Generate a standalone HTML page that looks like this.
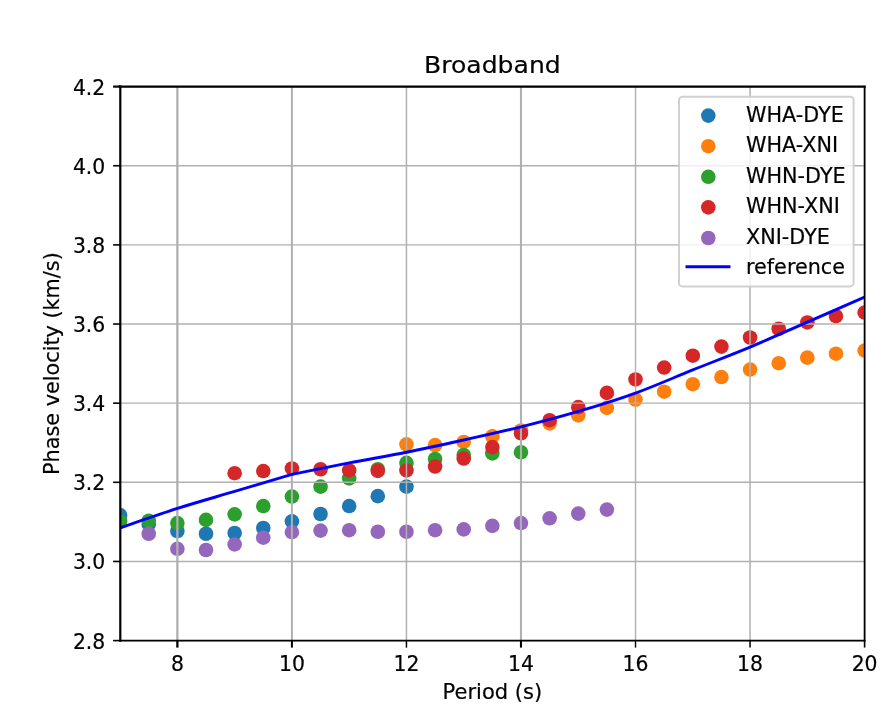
<!DOCTYPE html>
<html><head><meta charset="utf-8"><title>Broadband</title>
<style>html,body{margin:0;padding:0;background:#fff}svg{display:block}text{font-family:"DejaVu Sans","Liberation Sans",sans-serif;fill:#000;stroke:#000;stroke-width:0.2px}</style></head><body>
<svg width="887" height="721" viewBox="0 0 887 721">
<rect width="887" height="721" fill="#fff"/>
<defs><clipPath id="c"><rect x="120.1" y="86.6" width="744.5" height="554.0"/></clipPath></defs>
<g clip-path="url(#c)">
<g fill="#1f77b4"><circle cx="120.10" cy="515.16" r="7.3"/><circle cx="148.73" cy="524.26" r="7.3"/><circle cx="177.37" cy="530.99" r="7.3"/><circle cx="206.00" cy="533.76" r="7.3"/><circle cx="234.64" cy="532.97" r="7.3"/><circle cx="263.27" cy="528.02" r="7.3"/><circle cx="291.91" cy="521.29" r="7.3"/><circle cx="320.54" cy="513.97" r="7.3"/><circle cx="349.18" cy="506.06" r="7.3"/><circle cx="377.81" cy="496.16" r="7.3"/><circle cx="406.45" cy="486.67" r="7.3"/></g>
<g fill="#ff7f0e"><circle cx="406.45" cy="444.33" r="7.3"/><circle cx="435.08" cy="445.12" r="7.3"/><circle cx="463.72" cy="441.95" r="7.3"/><circle cx="492.35" cy="436.41" r="7.3"/><circle cx="520.98" cy="430.48" r="7.3"/><circle cx="549.62" cy="423.35" r="7.3"/><circle cx="578.25" cy="415.44" r="7.3"/><circle cx="606.89" cy="407.92" r="7.3"/><circle cx="635.52" cy="399.61" r="7.3"/><circle cx="664.16" cy="391.70" r="7.3"/><circle cx="692.79" cy="384.18" r="7.3"/><circle cx="721.43" cy="377.05" r="7.3"/><circle cx="750.06" cy="369.54" r="7.3"/><circle cx="778.70" cy="363.20" r="7.3"/><circle cx="807.33" cy="357.66" r="7.3"/><circle cx="835.97" cy="353.71" r="7.3"/><circle cx="864.60" cy="350.54" r="7.3"/></g>
<g fill="#2ca02c"><circle cx="120.10" cy="521.49" r="7.3"/><circle cx="148.73" cy="520.70" r="7.3"/><circle cx="177.37" cy="523.07" r="7.3"/><circle cx="206.00" cy="519.91" r="7.3"/><circle cx="234.64" cy="514.37" r="7.3"/><circle cx="263.27" cy="506.06" r="7.3"/><circle cx="291.91" cy="496.56" r="7.3"/><circle cx="320.54" cy="486.67" r="7.3"/><circle cx="349.18" cy="478.36" r="7.3"/><circle cx="377.81" cy="469.26" r="7.3"/><circle cx="406.45" cy="462.92" r="7.3"/><circle cx="435.08" cy="458.97" r="7.3"/><circle cx="463.72" cy="455.01" r="7.3"/><circle cx="492.35" cy="453.43" r="7.3"/><circle cx="520.98" cy="452.24" r="7.3"/></g>
<g fill="#d62728"><circle cx="234.64" cy="473.21" r="7.3"/><circle cx="263.27" cy="471.04" r="7.3"/><circle cx="291.91" cy="468.46" r="7.3"/><circle cx="320.54" cy="469.26" r="7.3"/><circle cx="349.18" cy="470.44" r="7.3"/><circle cx="377.81" cy="470.84" r="7.3"/><circle cx="406.45" cy="470.44" r="7.3"/><circle cx="435.08" cy="466.49" r="7.3"/><circle cx="463.72" cy="458.57" r="7.3"/><circle cx="492.35" cy="447.10" r="7.3"/><circle cx="520.98" cy="433.25" r="7.3"/><circle cx="549.62" cy="420.19" r="7.3"/><circle cx="578.25" cy="407.13" r="7.3"/><circle cx="606.89" cy="392.88" r="7.3"/><circle cx="635.52" cy="379.43" r="7.3"/><circle cx="664.16" cy="367.56" r="7.3"/><circle cx="692.79" cy="355.69" r="7.3"/><circle cx="721.43" cy="346.58" r="7.3"/><circle cx="750.06" cy="337.48" r="7.3"/><circle cx="778.70" cy="328.78" r="7.3"/><circle cx="807.33" cy="322.45" r="7.3"/><circle cx="835.97" cy="316.11" r="7.3"/><circle cx="864.60" cy="312.55" r="7.3"/></g>
<g fill="#9467bd"><circle cx="148.73" cy="533.76" r="7.3"/><circle cx="177.37" cy="548.79" r="7.3"/><circle cx="206.00" cy="549.98" r="7.3"/><circle cx="234.64" cy="544.44" r="7.3"/><circle cx="263.27" cy="537.71" r="7.3"/><circle cx="291.91" cy="532.17" r="7.3"/><circle cx="320.54" cy="530.59" r="7.3"/><circle cx="349.18" cy="530.20" r="7.3"/><circle cx="377.81" cy="531.78" r="7.3"/><circle cx="406.45" cy="531.78" r="7.3"/><circle cx="435.08" cy="530.20" r="7.3"/><circle cx="463.72" cy="529.40" r="7.3"/><circle cx="492.35" cy="525.84" r="7.3"/><circle cx="520.98" cy="523.07" r="7.3"/><circle cx="549.62" cy="518.32" r="7.3"/><circle cx="578.25" cy="513.58" r="7.3"/><circle cx="606.89" cy="509.62" r="7.3"/></g>
</g>
<g stroke="#b0b0b0"><line x1="177.37" y1="86.6" x2="177.37" y2="640.6" stroke-width="2.3"/><line x1="291.91" y1="86.6" x2="291.91" y2="640.6" stroke-width="2.0"/><line x1="406.45" y1="86.6" x2="406.45" y2="640.6" stroke-width="1.5"/><line x1="520.98" y1="86.6" x2="520.98" y2="640.6" stroke-width="2.1"/><line x1="635.52" y1="86.6" x2="635.52" y2="640.6" stroke-width="1.4"/><line x1="750.06" y1="86.6" x2="750.06" y2="640.6" stroke-width="1.5"/><line x1="864.60" y1="86.6" x2="864.60" y2="640.6" stroke-width="1.6"/><line x1="120.1" y1="640.60" x2="864.6" y2="640.60" stroke-width="1.4"/><line x1="120.1" y1="561.46" x2="864.6" y2="561.46" stroke-width="1.4"/><line x1="120.1" y1="482.31" x2="864.6" y2="482.31" stroke-width="1.4"/><line x1="120.1" y1="403.17" x2="864.6" y2="403.17" stroke-width="1.4"/><line x1="120.1" y1="324.03" x2="864.6" y2="324.03" stroke-width="1.4"/><line x1="120.1" y1="244.89" x2="864.6" y2="244.89" stroke-width="1.4"/><line x1="120.1" y1="165.74" x2="864.6" y2="165.74" stroke-width="1.4"/><line x1="120.1" y1="86.60" x2="864.6" y2="86.60" stroke-width="1.4"/></g>
<g clip-path="url(#c)">
<path d="M120.10,527.82 C129.64,524.59 158.28,514.50 177.37,508.43 C196.46,502.36 215.55,497.09 234.64,491.42 C253.73,485.74 282.36,477.24 291.91,474.40 M291.91,474.40 C301.45,472.49 330.09,466.62 349.18,462.92 C368.27,459.23 387.36,456.07 406.45,452.24 C425.54,448.41 444.63,444.19 463.72,439.97 C482.81,435.75 501.89,431.66 520.98,426.91 C540.07,422.17 559.16,417.12 578.25,411.48 C597.34,405.84 616.43,400.01 635.52,393.08 C654.61,386.16 673.70,377.60 692.79,369.93 C711.88,362.27 730.97,355.08 750.06,347.10 C769.15,339.12 788.24,330.38 807.33,322.05 C826.42,313.72 855.06,301.27 864.60,297.12" fill="none" stroke="#0000ff" stroke-width="2.9" stroke-linejoin="round"/>
</g>
<g stroke="#000"><line x1="177.37" y1="640.6" x2="177.37" y2="647.6" stroke-width="2.3"/><line x1="291.91" y1="640.6" x2="291.91" y2="647.6" stroke-width="2.0"/><line x1="406.45" y1="640.6" x2="406.45" y2="647.6" stroke-width="1.5"/><line x1="520.98" y1="640.6" x2="520.98" y2="647.6" stroke-width="2.1"/><line x1="635.52" y1="640.6" x2="635.52" y2="647.6" stroke-width="1.4"/><line x1="750.06" y1="640.6" x2="750.06" y2="647.6" stroke-width="1.5"/><line x1="864.60" y1="640.6" x2="864.60" y2="647.6" stroke-width="1.6"/><line x1="113.1" y1="640.60" x2="120.1" y2="640.60" stroke-width="1.6"/><line x1="113.1" y1="561.46" x2="120.1" y2="561.46" stroke-width="1.6"/><line x1="113.1" y1="482.31" x2="120.1" y2="482.31" stroke-width="1.6"/><line x1="113.1" y1="403.17" x2="120.1" y2="403.17" stroke-width="1.6"/><line x1="113.1" y1="324.03" x2="120.1" y2="324.03" stroke-width="1.6"/><line x1="113.1" y1="244.89" x2="120.1" y2="244.89" stroke-width="1.6"/><line x1="113.1" y1="165.74" x2="120.1" y2="165.74" stroke-width="1.6"/><line x1="113.1" y1="86.60" x2="120.1" y2="86.60" stroke-width="2.2"/></g>
<g stroke="#000" stroke-linecap="square"><line x1="120.3" y1="86.6" x2="120.3" y2="640.6" stroke-width="2.2"/><line x1="864.6" y1="86.6" x2="864.6" y2="640.6" stroke-width="1.7"/><line x1="120.1" y1="86.6" x2="864.6" y2="86.6" stroke-width="2.3"/><line x1="120.1" y1="640.6" x2="864.6" y2="640.6" stroke-width="1.7"/></g>
<text transform="translate(177.37 671.20) scale(0.97 1.04)" font-size="21" text-anchor="middle">8</text><text transform="translate(291.91 671.20) scale(0.97 1.04)" font-size="21" text-anchor="middle">10</text><text transform="translate(406.45 671.20) scale(0.97 1.04)" font-size="21" text-anchor="middle">12</text><text transform="translate(520.98 671.20) scale(0.97 1.04)" font-size="21" text-anchor="middle">14</text><text transform="translate(635.52 671.20) scale(0.97 1.04)" font-size="21" text-anchor="middle">16</text><text transform="translate(750.06 671.20) scale(0.97 1.04)" font-size="21" text-anchor="middle">18</text><text transform="translate(864.60 671.20) scale(0.97 1.04)" font-size="21" text-anchor="middle">20</text><text transform="translate(105.30 648.50) scale(0.97 1.04)" font-size="21" text-anchor="end">2.8</text><text transform="translate(105.30 569.36) scale(0.97 1.04)" font-size="21" text-anchor="end">3.0</text><text transform="translate(105.30 490.21) scale(0.97 1.04)" font-size="21" text-anchor="end">3.2</text><text transform="translate(105.30 411.07) scale(0.97 1.04)" font-size="21" text-anchor="end">3.4</text><text transform="translate(105.30 331.93) scale(0.97 1.04)" font-size="21" text-anchor="end">3.6</text><text transform="translate(105.30 252.79) scale(0.97 1.04)" font-size="21" text-anchor="end">3.8</text><text transform="translate(105.30 173.64) scale(0.97 1.04)" font-size="21" text-anchor="end">4.0</text><text transform="translate(105.30 94.50) scale(0.97 1.04)" font-size="21" text-anchor="end">4.2</text>
<text transform="translate(492.35 699.30)" font-size="21" text-anchor="middle">Period (s)</text>
<text transform="translate(58.80 363.60) rotate(-90) scale(0.99 1.0)" font-size="21" text-anchor="middle">Phase velocity (km/s)</text>
<text transform="translate(492.35 73.40) scale(1.045 0.96)" font-size="24" text-anchor="middle">Broadband</text>
<rect x="679" y="96.8" width="174.6" height="189.6" rx="3.5" ry="3.5" fill="#fff" fill-opacity="0.8" stroke="#ccc" stroke-opacity="0.9" stroke-width="2"/>
<circle cx="708.3" cy="115.60" r="7.3" fill="#1f77b4"/><text transform="translate(746.00 121.50) scale(0.988 1.0)" font-size="21" text-anchor="start">WHA-DYE</text>
<circle cx="708.3" cy="146.20" r="7.3" fill="#ff7f0e"/><text transform="translate(746.00 152.10) scale(0.988 1.0)" font-size="21" text-anchor="start">WHA-XNI</text>
<circle cx="708.3" cy="176.80" r="7.3" fill="#2ca02c"/><text transform="translate(746.00 182.70) scale(0.988 1.0)" font-size="21" text-anchor="start">WHN-DYE</text>
<circle cx="708.3" cy="207.40" r="7.3" fill="#d62728"/><text transform="translate(746.00 213.30) scale(0.988 1.0)" font-size="21" text-anchor="start">WHN-XNI</text>
<circle cx="708.3" cy="238.00" r="7.3" fill="#9467bd"/><text transform="translate(746.00 243.90) scale(0.988 1.0)" font-size="21" text-anchor="start">XNI-DYE</text>
<line x1="687" y1="266.80" x2="729" y2="266.80" stroke="#0000ff" stroke-width="3" stroke-linecap="square"/><text transform="translate(746.00 273.50) scale(0.988 1.0)" font-size="21" text-anchor="start">reference</text>
</svg></body></html>
